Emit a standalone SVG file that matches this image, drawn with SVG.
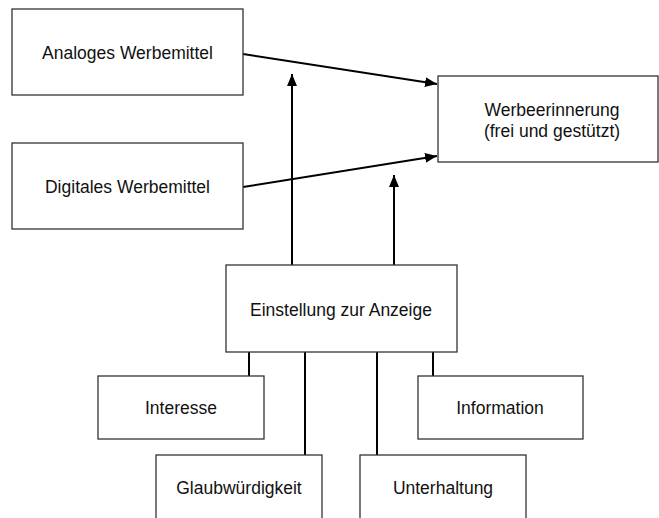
<svg xmlns="http://www.w3.org/2000/svg" width="659" height="518" viewBox="0 0 659 518">
<style>
.box{fill:#fff;stroke:#333;stroke-width:1.3}
.lbl{font-family:"Liberation Sans",Arial,sans-serif;font-size:17.5px;fill:#111;text-anchor:middle}
.con{stroke:#000;stroke-width:2;fill:none}
</style>
<defs>
<marker id="ah" viewBox="0 0 12 10" refX="12" refY="5" markerWidth="12" markerHeight="10" markerUnits="userSpaceOnUse" orient="auto">
<path d="M0,0 L12,5 L0,10 Z" fill="#000"/>
</marker>
</defs>
<rect width="659" height="518" fill="#fff"/>
<g id="connectors">
<line class="con" x1="243" y1="54" x2="437" y2="84" marker-end="url(#ah)"/>
<line class="con" x1="243" y1="187" x2="437" y2="156" marker-end="url(#ah)"/>
<line class="con" x1="292" y1="265" x2="292" y2="74" marker-end="url(#ah)"/>
<line class="con" x1="394" y1="265" x2="394" y2="175" marker-end="url(#ah)"/>
<line class="con" x1="249" y1="352" x2="249" y2="376"/>
<line class="con" x1="305" y1="352" x2="305" y2="455"/>
<line class="con" x1="377" y1="352" x2="377" y2="455"/>
<line class="con" x1="433" y1="352" x2="433" y2="376"/>
</g>
<g id="analog"><rect class="box" x="12" y="9" width="231" height="86"/><text class="lbl" x="127.5" y="59">Analoges Werbemittel</text></g>
<g id="digital"><rect class="box" x="12" y="143" width="231" height="86"/><text class="lbl" x="127.5" y="193">Digitales Werbemittel</text></g>
<g id="werbeerinnerung"><rect class="box" x="438" y="76" width="220" height="86"/><text class="lbl" x="552" y="116">Werbeerinnerung</text><text class="lbl" x="552" y="137">(frei und gestützt)</text></g>
<g id="einstellung"><rect class="box" x="226" y="265" width="231" height="87"/><text class="lbl" x="341" y="316">Einstellung zur Anzeige</text></g>
<g id="interesse"><rect class="box" x="98" y="376" width="166" height="63"/><text class="lbl" x="181" y="414">Interesse</text></g>
<g id="information"><rect class="box" x="418" y="376" width="165" height="63"/><text class="lbl" x="500" y="414">Information</text></g>
<g id="glaubwuerdigkeit"><rect class="box" x="156" y="455" width="166" height="70"/><text class="lbl" x="239" y="494">Glaubwürdigkeit</text></g>
<g id="unterhaltung"><rect class="box" x="360" y="455" width="166" height="70"/><text class="lbl" x="443" y="494">Unterhaltung</text></g>
</svg>
